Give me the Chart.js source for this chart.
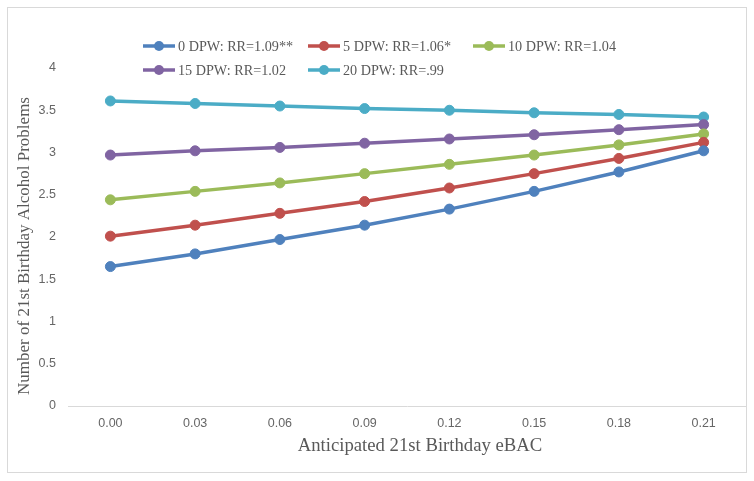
<!DOCTYPE html>
<html><head><meta charset="utf-8">
<script src="https://cdn.jsdelivr.net/npm/chart.js@4"></script>
<style>
html,body{margin:0;padding:0;background:#fff;}
#wrap{position:relative;width:754px;height:481px;}
#frame{position:absolute;left:7px;top:7px;width:740px;height:466px;border:1px solid #d9d9d9;box-sizing:border-box;}
canvas{position:absolute;left:0;top:0;}
</style></head><body>
<div id="wrap"><div id="frame"></div><canvas id="c" width="754" height="481"></canvas></div>
<script>
const categories = ['0.00','0.03','0.06','0.09','0.12','0.15','0.18','0.21'];
const seriesLabels = ['0 DPW: RR=1.09**','5 DPW: RR=1.06*','10 DPW: RR=1.04','15 DPW: RR=1.02','20 DPW: RR=.99'];
const dpw0  = [1.65,1.80,1.97,2.14,2.33,2.54,2.77,3.02];
const dpw5  = [2.01,2.14,2.28,2.42,2.58,2.75,2.93,3.12];
const dpw10 = [2.44,2.54,2.64,2.75,2.86,2.97,3.09,3.22];
const dpw15 = [2.97,3.02,3.06,3.11,3.16,3.21,3.27,3.33];
const dpw20 = [3.61,3.58,3.55,3.52,3.50,3.47,3.45,3.42];
const colors = ['#4F81BD','#C0504D','#9BBB59','#8064A2','#4BACC6'];
const yMin = 0, yMax = 4, yStep = 0.5;
const yTitle = 'Number of 21st Birthday Alcohol Problems';
const xTitle = 'Anticipated 21st Birthday eBAC';

const seriesValues = [dpw0, dpw5, dpw10, dpw15, dpw20];
const serif = '"Liberation Serif", "Times New Roman", serif';
const sans = '"Liberation Sans", Arial, sans-serif';

const legendPlugin = {
  id: 'gridLegend',
  afterDraw(chart) {
    const ctx = chart.ctx;
    const cols = [143, 308, 473];
    const rows = [46, 70];
    ctx.save();
    ctx.font = '14.2px ' + serif;
    ctx.textBaseline = 'middle';
    ctx.textAlign = 'left';
    chart.data.datasets.forEach((ds, i) => {
      const x = cols[i % 3], y = rows[Math.floor(i / 3)];
      ctx.strokeStyle = ds.borderColor;
      ctx.lineWidth = 3.5;
      ctx.beginPath(); ctx.moveTo(x, y); ctx.lineTo(x + 32, y); ctx.stroke();
      ctx.fillStyle = ds.borderColor;
      ctx.beginPath(); ctx.arc(x + 16, y, 5, 0, Math.PI * 2); ctx.fill();
      ctx.fillStyle = '#595959';
      ctx.fillText(ds.label, x + 35, y + 1);
    });
    ctx.fillStyle = '#595959';
    ctx.textAlign = 'center';
    // x axis title
    ctx.font = '18.7px ' + serif;
    ctx.fillText(xTitle, 420, 446);
    // y axis title
    ctx.save();
    ctx.translate(25, 246);
    ctx.rotate(-Math.PI / 2);
    ctx.font = '17px ' + serif;
    ctx.fillText(yTitle, 0, 0);
    ctx.restore();
    ctx.restore();
  }
};

new Chart(document.getElementById('c'), {
  type: 'line',
  data: {
    labels: categories,
    datasets: seriesValues.map((vals, i) => ({
      label: seriesLabels[i],
      data: vals,
      borderColor: colors[i],
      backgroundColor: colors[i],
      pointBackgroundColor: colors[i],
      pointBorderColor: colors[i],
      pointBorderWidth: 1,
      pointRadius: 5,
      borderWidth: 3.5,
      tension: 0,
      fill: false
    }))
  },
  options: {
    responsive: false,
    animation: false,
    layout: { padding: { top: 68, right: 8, left: 0, bottom: 0 } },
    plugins: { legend: { display: false }, tooltip: { enabled: false } },
    scales: {
      x: {
        offset: true,
        grid: { display: false, drawTicks: false },
        border: { display: true, color: '#d9d9d9', width: 1 },
        ticks: { color: '#666666', font: { family: sans, size: 12.5 }, padding: 10 },
        title: { display: false },
        afterFit(s) { s.height = 75; }
      },
      y: {
        min: yMin, max: yMax,
        grid: { display: false, drawTicks: false },
        border: { display: false },
        ticks: { stepSize: yStep, color: '#666666', font: { family: sans, size: 12.5 }, padding: 12,
                 callback: (v) => String(v) },
        title: { display: false },
        afterFit(s) { s.width = 68; }
      }
    }
  },
  plugins: [legendPlugin]
});
</script>
</body></html>
